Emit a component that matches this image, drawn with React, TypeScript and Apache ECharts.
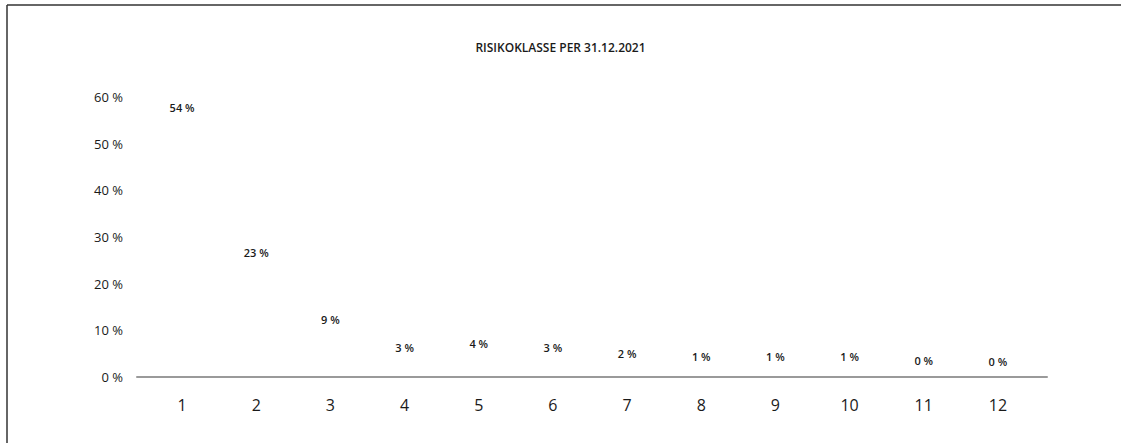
import React, { useEffect, useRef } from "react";
import * as echarts from "echarts";

const categories = ["1", "2", "3", "4", "5", "6", "7", "8", "9", "10", "11", "12"];
const shares = [54.4, 23.4, 9.0, 3.0, 3.9, 3.0, 1.7, 1.1, 1.0, 1.1, 0.2, 0.1];
const yTicks = { min: 0, max: 60, interval: 10 };
const titleText = "RISIKOKLASSE PER 31.12.2021";

const FONT = "'Open Sans', 'Noto Sans', sans-serif";

export default function App() {
  const ref = useRef<HTMLDivElement>(null);
  useEffect(() => {
    if (!ref.current) return;
    const chart = echarts.init(ref.current, undefined, { renderer: "svg" });
    chart.setOption({
      animation: false,
      backgroundColor: "#ffffff",
      title: {
        text: titleText,
        left: "center",
        top: 36,
        textStyle: { fontFamily: FONT, fontSize: 12, fontWeight: 600, color: "#1a1a1a" },
      },
      graphic: [
        { type: "line", shape: { x1: 7, y1: 5, x2: 1121, y2: 5 }, style: { stroke: "#333", lineWidth: 1.5 } },
        { type: "line", shape: { x1: 7, y1: 5, x2: 7, y2: 443 }, style: { stroke: "#333", lineWidth: 1.5 } },
      ],
      grid: [
        { left: 137, right: 74, top: 97, bottom: 66 },
        { left: 145, right: 86, top: 97, bottom: 66 },
      ],
      xAxis: [
        {
          type: "category",
          gridIndex: 0,
          data: categories,
          axisLine: { show: true, lineStyle: { color: "#9a9a9a", width: 2 } },
          axisTick: { show: false },
          axisLabel: { show: false },
          splitLine: { show: false },
        },
        {
          type: "category",
          gridIndex: 1,
          data: categories,
          axisLine: { show: false },
          axisTick: { show: false },
          axisLabel: { fontFamily: FONT, fontSize: 16, color: "#1a1a1a", margin: 20 },
          splitLine: { show: false },
        },
      ],
      yAxis: [
        { type: "value", gridIndex: 0, min: yTicks.min, max: yTicks.max, interval: yTicks.interval, show: false },
        {
          type: "value",
          gridIndex: 1,
          min: yTicks.min,
          max: yTicks.max,
          interval: yTicks.interval,
          axisLine: { show: false },
          axisTick: { show: false },
          splitLine: { show: false },
          axisLabel: { fontFamily: FONT, fontSize: 13, color: "#1a1a1a", margin: 22, formatter: "{value} %" },
        },
      ],
      series: [
        {
          type: "bar",
          xAxisIndex: 1,
          yAxisIndex: 1,
          data: shares,
          barWidth: "50%",
          itemStyle: { color: "rgba(255,255,255,0)" },
          label: {
            show: true,
            position: "top",
            distance: 10,
            fontFamily: FONT,
            fontSize: 11,
            fontWeight: 600,
            color: "#1a1a1a",
            formatter: (p: any) => `${Math.round(p.value)} %`,
          },
        },
      ],
    });
    return () => chart.dispose();
  }, []);
  return (
    <div
      ref={ref}
      style={{ position: "fixed", left: 0, top: 0, width: 1121, height: 443 }}
    />
  );
}
